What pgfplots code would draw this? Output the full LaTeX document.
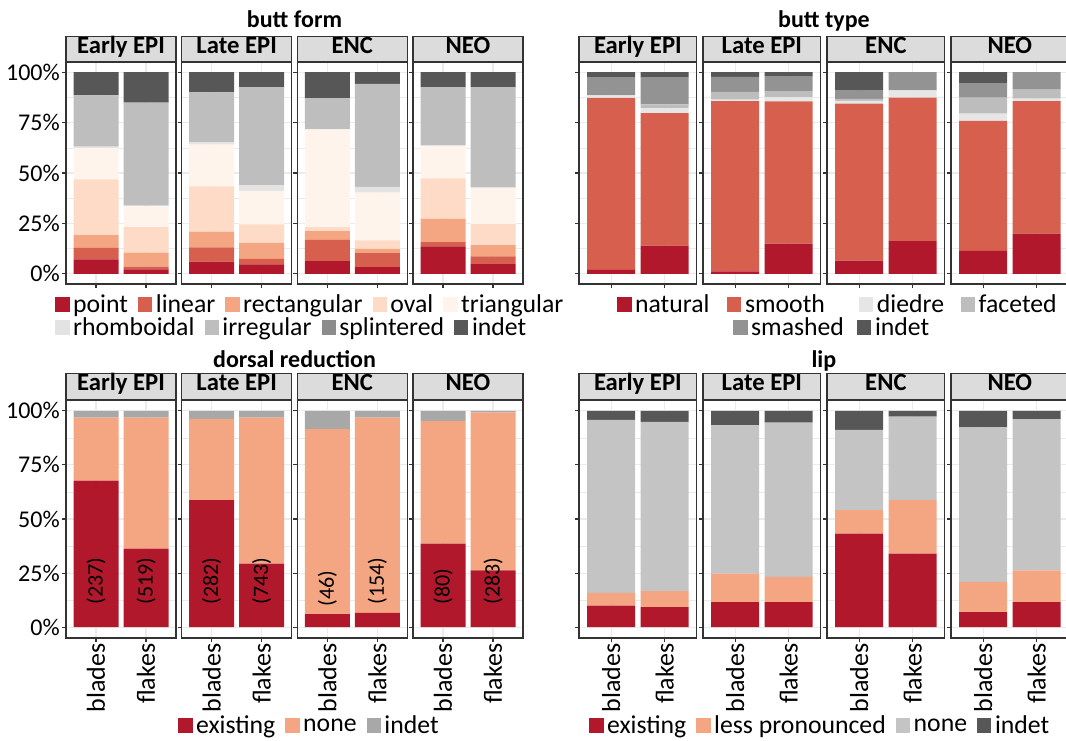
\documentclass[border=0pt]{standalone}
\usepackage{fontspec}
\setmainfont{Carlito}
\usepackage{pgfplots}
\usepackage{pgfplotstable}
\pgfplotsset{compat=1.18}

\definecolor{cA}{HTML}{B2182B}
\definecolor{cB}{HTML}{D6604D}
\definecolor{cC}{HTML}{F4A582}
\definecolor{cD}{HTML}{FDDBC7}
\definecolor{cE}{HTML}{FEF4EC}
\definecolor{gA}{HTML}{E3E3E3}
\definecolor{gB}{HTML}{BEBEBE}
\definecolor{gC}{HTML}{8C8C8C}
\definecolor{gD}{HTML}{575757}
\definecolor{tDie}{HTML}{E6E6E6}
\definecolor{tFac}{HTML}{BDBDBD}
\definecolor{tSma}{HTML}{939393}
\definecolor{drInd}{HTML}{A8A8A8}
\definecolor{lipNone}{HTML}{C4C4C4}
\definecolor{frame}{HTML}{333333}
\definecolor{strip}{HTML}{DCDCDC}
\definecolor{gridc}{HTML}{EBEBEB}

\newcommand\fz[1]{\fontsize{#1}{#1}\selectfont}

% x: facet k holds blades at 3k+1 and flakes at 3k+2
\pgfplotstableread{
x point linear rect oval tri rhomb irreg splint indet
1  7.2  5.7  6.3 27.7 15.5 0.7 25.4 0 11.5
2  2.2  1.4  6.9 12.7 10.3 0.3 51.1 0 15.1
4  6.1  7.0  7.9 22.4 20.6 1.3 24.6 0 10.1
5  4.7  2.8  7.9  9.1 16.6 2.8 48.6 0  7.5
7  6.3 10.6  4.3  2.0 48.4 0.0 15.5 0 12.9
8  3.3  7.0  2.1  4.2 23.7 2.8 51.1 0  5.8
10 13.6 2.2 11.6 19.9 16.0 0.5 28.7 0  7.5
11  4.9 3.8  5.6 10.4 17.8 0.5 49.5 0  7.5
}\tabBF

\pgfplotstableread{
x natural smooth diedre faceted smashed indet
1   2.0 85.2 1.3 0.0  9.0 2.5
2  14.0 65.7 2.5 1.8 13.2 2.8
4   1.2 84.4 0.8 3.8  7.4 2.4
5  15.0 70.5 2.1 3.0  7.2 2.2
7   6.6 77.8 1.3 1.0  4.1 9.2
8  16.3 71.0 3.6 0.0  9.1 0.0
10 11.4 64.4 3.6 7.9  7.2 5.5
11 20.0 65.6 1.2 4.5  8.7 0.0
}\tabBT

% ly: height at which the count label starts
\pgfplotstableread{
x existing none indet ly n
1  67.7 29.2 3.1 10.5 (237)
2  36.3 60.6 3.1 10.5 (519)
4  58.7 37.6 3.7 10.5 (282)
5  29.4 67.5 3.1 10.5 (743)
7   6.0 85.5 8.5 9.5 (46)
8   6.6 90.3 3.1 10.5 (154)
10 38.6 56.7 4.7 10.5 (80)
11 26.3 73.0 0.7 10.5 (283)
}\tabDR

\pgfplotstableread{
x existing less none indet
1  10.0  5.9 79.9 4.2
2   9.3  7.4 78.2 5.1
4  11.6 13.1 68.7 6.6
5  11.6 11.6 71.4 5.4
7  43.3 10.8 37.1 8.8
8  34.0 24.7 38.6 2.7
10  7.0 13.9 71.5 7.6
11 11.6 14.7 69.9 3.8
}\tabLip

\pgfplotsset{
  striph/.initial=18.75pt,
  seg/.style={fill=#1, draw=none},
  strip/.style={extra description/.code={%
    \node[anchor=south, fill=strip, draw=frame, line width=1.1pt, inner sep=0pt,
      text height=12pt, text depth=5pt, font=\bfseries\fz{18.5},
      minimum width=\pgfkeysvalueof{/pgfplots/width},
      minimum height=\pgfkeysvalueof{/pgfplots/striph}] at (0.5,1) {#1};}},
  facet/.style={
    scale only axis, anchor=south west,
    ymin=-5, ymax=105,
    ybar stacked, bar width=0.9,
    ytick={0,25,50,75,100}, yticklabels={},
    minor ytick={12.5,37.5,62.5,87.5},
    xtick pos=bottom, ytick pos=left,
    tick align=outside, major tick length=3pt, minor tick length=0pt,
    tick style={color=frame, line width=0.8pt},
    axis line style={color=frame, line width=1.1pt},
    xmajorgrids, ymajorgrids, yminorgrids,
    major grid style={color=gridc, line width=0.8pt},
    minor grid style={color=gridc, line width=0.4pt},
    yticklabel style={font=\fz{18}, inner xsep=1.5pt},
  },
  f0/.style={xmin=0.4, xmax=2.6, xtick={1,2}},
  f1/.style={xmin=3.4, xmax=5.6, xtick={4,5}},
  f2/.style={xmin=6.4, xmax=8.6, xtick={7,8}},
  f3/.style={xmin=9.4, xmax=11.6, xtick={10,11}},
  lw/.style={width=82.5pt},
  rw/.style={width=88.3pt},
  toprow/.style={height=166.5pt, xticklabels={}, striph=18.75pt},
  botrow/.style={height=178.5pt, xticklabels={blades,flakes},
    xticklabel style={rotate=90, anchor=east, inner xsep=1pt, font=\fz{19.5}},
    striph=19.5pt},
  ylab/.style={yticklabels={0\%,25\%,50\%,75\%,100\%}},
  ovl/.style={scale only axis, anchor=south west, hide axis, clip=false,
    width=82.5pt, height=178.5pt, ymin=-5, ymax=105},
  legax/.style={hide axis, scale only axis, width=1pt, height=1pt,
    xmin=0, xmax=1, ymin=0, ymax=1, anchor=west, legend columns=-1,
    legend style={at={(0,0.5)}, anchor=west, draw=none, fill=none,
      inner sep=0pt, font=\fz{19.3}, nodes={inner xsep=0pt, inner ysep=1pt},
      /tikz/every odd column/.style={column sep=3pt},
      /tikz/every even column/.style={column sep=7.5pt}},
    legend image code/.code={\fill[##1] (0pt,-5pt) rectangle (10pt,5.5pt);}},
}

\newcommand\bfplots{%
  \addplot[seg=cA] table[x=x,y=point]{\tabBF};
  \addplot[seg=cB] table[x=x,y=linear]{\tabBF};
  \addplot[seg=cC] table[x=x,y=rect]{\tabBF};
  \addplot[seg=cD] table[x=x,y=oval]{\tabBF};
  \addplot[seg=cE] table[x=x,y=tri]{\tabBF};
  \addplot[seg=gA] table[x=x,y=rhomb]{\tabBF};
  \addplot[seg=gB] table[x=x,y=irreg]{\tabBF};
  \addplot[seg=gC] table[x=x,y=splint]{\tabBF};
  \addplot[seg=gD] table[x=x,y=indet]{\tabBF};
}
\newcommand\btplots{%
  \addplot[seg=cA] table[x=x,y=natural]{\tabBT};
  \addplot[seg=cB] table[x=x,y=smooth]{\tabBT};
  \addplot[seg=tDie] table[x=x,y=diedre]{\tabBT};
  \addplot[seg=tFac] table[x=x,y=faceted]{\tabBT};
  \addplot[seg=tSma] table[x=x,y=smashed]{\tabBT};
  \addplot[seg=gD] table[x=x,y=indet]{\tabBT};
}
\newcommand\drplots{%
  \addplot[seg=cA] table[x=x,y=existing]{\tabDR};
  \addplot[seg=cC] table[x=x,y=none]{\tabDR};
  \addplot[seg=drInd] table[x=x,y=indet]{\tabDR};
}
\newcommand\drlabels{%
  \addplot[draw=none, mark=none, nodes near coords, point meta=explicit symbolic,
    nodes near coords style={rotate=90, anchor=west, inner sep=0pt,
      font=\fz{16.5}, text=black}]
    table[x=x,y=ly,meta=n]{\tabDR};
}
\newcommand\lipplots{%
  \addplot[seg=cA] table[x=x,y=existing]{\tabLip};
  \addplot[seg=cC] table[x=x,y=less]{\tabLip};
  \addplot[seg=lipNone] table[x=x,y=none]{\tabLip};
  \addplot[seg=gD] table[x=x,y=indet]{\tabLip};
}

\begin{document}
\begin{tikzpicture}[x=0.75pt,y=0.75pt]
% panel titles
\node[anchor=base, font=\bfseries\fz{18}] at (294.5,712) {butt form};
\node[anchor=base, font=\bfseries\fz{18}] at (823.9,712) {butt type};
\node[anchor=base, font=\bfseries\fz{18}] at (294.5,373) {dorsal reduction};
\node[anchor=base, font=\bfseries\fz{18}] at (823.9,373) {lip};

% butt form
\begin{axis}[facet,toprow,lw,f0,ylab,at={(49.5pt,342pt)},strip={Early EPI}]\bfplots\end{axis}
\begin{axis}[facet,toprow,lw,f1,at={(136.25pt,342pt)},strip={Late EPI}]\bfplots\end{axis}
\begin{axis}[facet,toprow,lw,f2,at={(223pt,342pt)},strip={ENC}]\bfplots\end{axis}
\begin{axis}[facet,toprow,lw,f3,at={(309.75pt,342pt)},strip={NEO}]\bfplots\end{axis}

% butt type
\begin{axis}[facet,toprow,rw,f0,at={(434.25pt,342pt)},strip={Early EPI}]\btplots\end{axis}
\begin{axis}[facet,toprow,rw,f1,at={(527.25pt,342pt)},strip={Late EPI}]\btplots\end{axis}
\begin{axis}[facet,toprow,rw,f2,at={(620.25pt,342pt)},strip={ENC}]\btplots\end{axis}
\begin{axis}[facet,toprow,rw,f3,at={(713.25pt,342pt)},strip={NEO}]\btplots\end{axis}

% dorsal reduction
\begin{axis}[facet,botrow,lw,f0,ylab,at={(49.5pt,76.5pt)},strip={Early EPI}]\drplots\end{axis}
\begin{axis}[facet,botrow,lw,f1,at={(136.25pt,76.5pt)},strip={Late EPI}]\drplots\end{axis}
\begin{axis}[facet,botrow,lw,f2,at={(223pt,76.5pt)},strip={ENC}]\drplots\end{axis}
\begin{axis}[facet,botrow,lw,f3,at={(309.75pt,76.5pt)},strip={NEO}]\drplots\end{axis}
% count labels, same frame as the facets above
\begin{axis}[ovl,f0,restrict x to domain=0:3,at={(49.5pt,76.5pt)}]\drlabels\end{axis}
\begin{axis}[ovl,f1,restrict x to domain=3:6,at={(136.25pt,76.5pt)}]\drlabels\end{axis}
\begin{axis}[ovl,f2,restrict x to domain=6:9,at={(223pt,76.5pt)}]\drlabels\end{axis}
\begin{axis}[ovl,f3,restrict x to domain=9:12,at={(309.75pt,76.5pt)}]\drlabels\end{axis}

% lip
\begin{axis}[facet,botrow,rw,f0,at={(434.25pt,76.5pt)},strip={Early EPI}]\lipplots\end{axis}
\begin{axis}[facet,botrow,rw,f1,at={(527.25pt,76.5pt)},strip={Late EPI}]\lipplots\end{axis}
\begin{axis}[facet,botrow,rw,f2,at={(620.25pt,76.5pt)},strip={ENC}]\lipplots\end{axis}
\begin{axis}[facet,botrow,rw,f3,at={(713.25pt,76.5pt)},strip={NEO}]\lipplots\end{axis}

% legends
\begin{axis}[legax,at={(41.25pt,326.25pt)}]
\addlegendimage{cA}\addlegendentry{point}
\addlegendimage{cB}\addlegendentry{linear}
\addlegendimage{cC}\addlegendentry{rectangular}
\addlegendimage{cD}\addlegendentry{oval}
\addlegendimage{cE}\addlegendentry{triangular}
\end{axis}
\begin{axis}[legax,at={(41.25pt,309pt)}]
\addlegendimage{gA}\addlegendentry{rhomboidal}
\addlegendimage{gB}\addlegendentry{irregular}
\addlegendimage{gC}\addlegendentry{splintered}
\addlegendimage{gD}\addlegendentry{indet}
\end{axis}
\begin{axis}[legax,at={(462.75pt,326.25pt)}]
\addlegendimage{cA}\addlegendentry{\makebox[61.5pt][l]{natural}}
\addlegendimage{cB}\addlegendentry{\makebox[78pt][l]{smooth}}
\addlegendimage{tDie}\addlegendentry{\makebox[55.5pt][l]{diedre}}
\addlegendimage{tFac}\addlegendentry{faceted}
\end{axis}
\begin{axis}[legax,at={(549.75pt,309pt)}]
\addlegendimage{tSma}\addlegendentry{\makebox[72pt][l]{smashed}}
\addlegendimage{gD}\addlegendentry{indet}
\end{axis}
\begin{axis}[legax,at={(133.5pt,10.5pt)}]
\addlegendimage{cA}\addlegendentry{existing}
\addlegendimage{cC}\addlegendentry{none}
\addlegendimage{drInd}\addlegendentry{indet}
\end{axis}
\begin{axis}[legax,at={(441.75pt,10.5pt)}]
\addlegendimage{cA}\addlegendentry{existing}
\addlegendimage{cC}\addlegendentry{less pronounced}
\addlegendimage{lipNone}\addlegendentry{none}
\addlegendimage{gD}\addlegendentry{indet}
\end{axis}

\pgfresetboundingbox
\path (0,0) rectangle (1066,740);
\end{tikzpicture}
\end{document}
